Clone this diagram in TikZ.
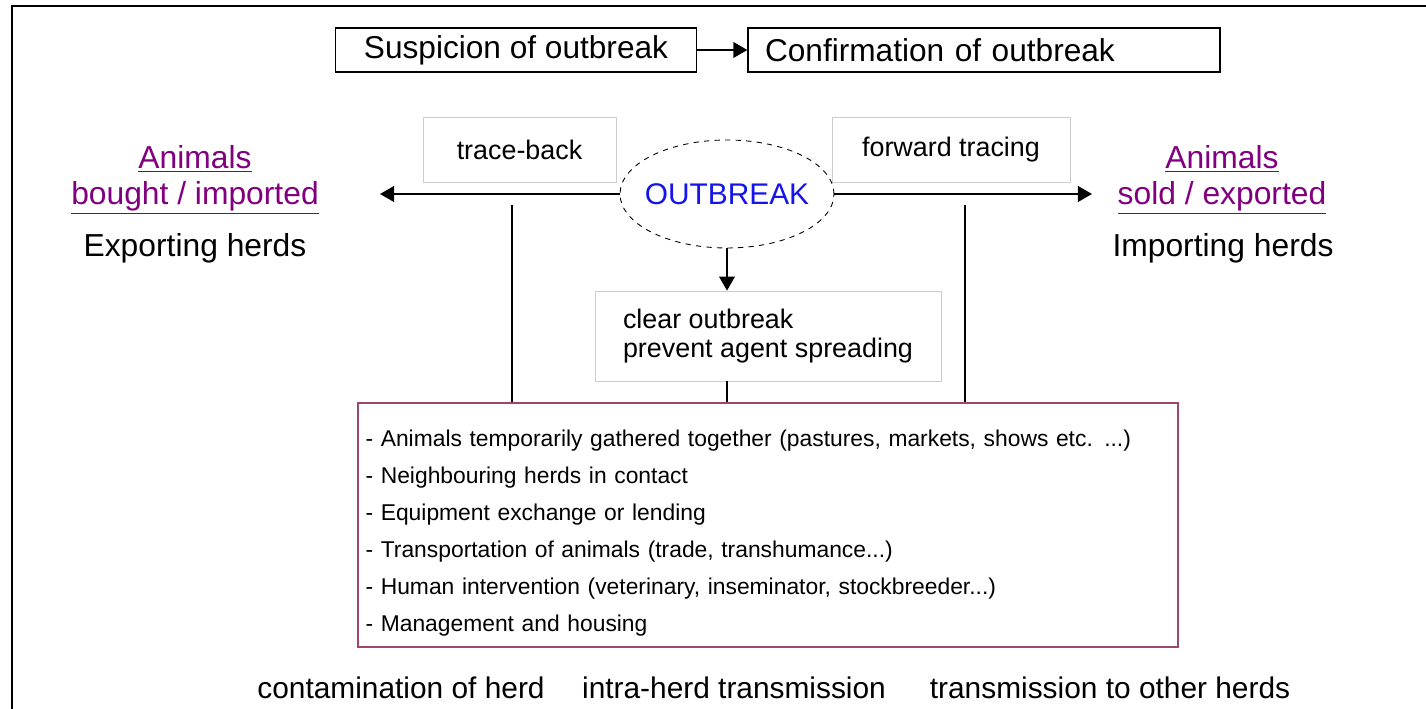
\documentclass[tikz,border=0pt]{standalone}
\usepackage{fontspec}
\setmainfont{Liberation Sans}
\usetikzlibrary{shapes,arrows.meta,positioning,calc}
\definecolor{labelpurple}{RGB}{128,0,128}
\definecolor{listframe}{RGB}{156,72,110}
\definecolor{paleframe}{RGB}{205,205,205}
\definecolor{outblue}{RGB}{20,20,235}

\begin{document}
\begin{tikzpicture}[x=0.02cm, y=-0.02cm,
  stagebox/.style={rectangle, draw, line width=0.8pt, minimum height=0.88cm, font=\fontsize{18}{20}\selectfont},
  tracebox/.style={rectangle, draw=paleframe, line width=0.5pt, minimum height=1.3cm, font=\fontsize{15.3}{17}\selectfont},
  herdlabel/.style={align=center, text=labelpurple, font=\fontsize{18.1}{20.4}\selectfont},
  herdname/.style={font=\fontsize{18.1}{20}\selectfont},
  stepnote/.style={font=\fontsize{17}{19}\selectfont},
  tip/.style={-{Triangle[length=8pt,width=9pt]}, line width=0.8pt}]
\useasboundingbox (0,0) rectangle (1426,709);
\draw[line width=1.1pt] (12,709) -- (12,6) -- (1426,6);

\node[stagebox, minimum width=7.22cm] (susp) at (516,50) {Suspicion of outbreak};
\node[stagebox, text width=8.76cm, inner xsep=0.34cm, align=left] (conf) at (984,50) {Confirmation of outbreak};
\draw[tip] (susp) -- (conf);

\node[tracebox, minimum width=3.86cm] (back) at (519.5,149.5) {trace-back};
\node[tracebox, minimum width=4.76cm] (fwd) at (951,149.5) {forward tracing};
\node[ellipse, draw, dashed, fill=white, line width=0.5pt, inner xsep=-4.5pt, inner ysep=0pt, minimum width=4.28cm, minimum height=2.16cm, text=outblue, font=\fontsize{17}{19}\selectfont] (outbreak) at (727,194) {OUTBREAK};

\coordinate (leftend) at (380,194);
\coordinate (rightend) at (1092,194);
\draw[tip] (outbreak.west) -- (leftend);
\draw[tip] (outbreak.east) -- (rightend);

\node[herdlabel] (bought) at (195,180) {\underline{Animals}\\\underline{bought / imported}};
\node[herdname] (exporting) at (195,248) {Exporting herds};
\node[herdlabel] (sold) at (1222,180) {\underline{Animals}\\\underline{sold / exported}};
\node[herdname] (importing) at (1223,248) {Importing herds};

\node[rectangle, draw=paleframe, line width=0.5pt, minimum width=6.92cm, minimum height=1.8cm, align=left, font=\fontsize{15.3}{17}\selectfont] (clear) at (768,336) {clear outbreak\\prevent agent spreading};
\draw[tip] (outbreak.south) -- (outbreak.south |- clear.north);

\node[rectangle, draw=listframe, line width=0.8pt, text width=16.1cm, inner xsep=0.15cm, minimum height=4.88cm, align=left, font=\fontsize{13}{21}\selectfont] (routes) at (768,525) {\rule{0pt}{18.5pt}- Animals temporarily gathered together (pastures, markets, shows etc. ...)\\
- Neighbouring herds in contact\\
- Equipment exchange or lending\\
- Transportation of animals (trade, transhumance...)\\
- Human intervention (veterinary, inseminator, stockbreeder...)\\
- Management and housing};

\coordinate (backdrop) at (512,205);
\coordinate (fwddrop) at (965,205);
\draw[line width=0.6pt] (backdrop) -- (backdrop |- routes.north);
\draw[line width=0.6pt] (fwddrop) -- (fwddrop |- routes.north);
\draw[line width=0.6pt] (outbreak.south |- clear.south) -- (outbreak.south |- routes.north);

\node[stepnote] (contam) at (401,688) {contamination of herd};
\node[stepnote] (intra) at (734,688) {intra-herd transmission};
\node[stepnote] (other) at (1110,688) {transmission to other herds};
\end{tikzpicture}
\end{document}
